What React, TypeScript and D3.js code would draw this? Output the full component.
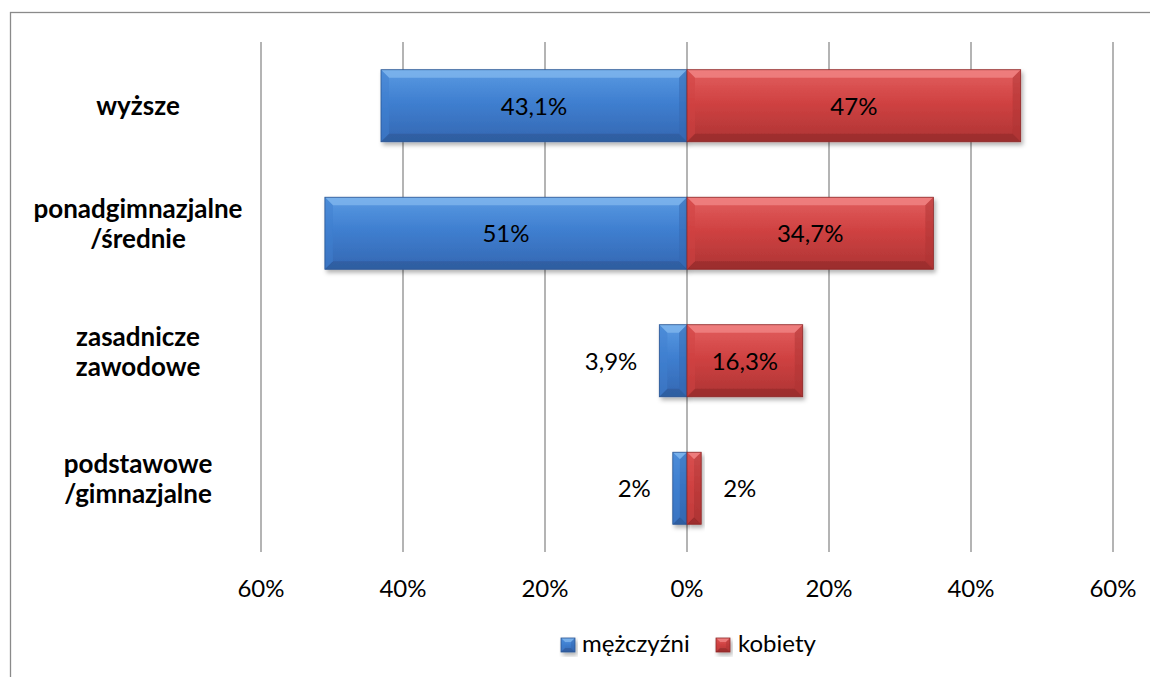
import React from 'react';
import * as d3 from 'd3';

const categories = ['wyższe', 'ponadgimnazjalne\n/średnie', 'zasadnicze\nzawodowe', 'podstawowe\n/gimnazjalne'];
const menValues = [43.1, 51, 3.9, 2];
const womenValues = [47, 34.7, 16.3, 2];
const tickValues = [-60, -40, -20, 0, 20, 40, 60];
const seriesNames = ['mężczyźni', 'kobiety'];

const W = 1150;
const H = 677;
const FONT = 'Lato, Carlito, Calibri, sans-serif';
const FS = 24;

const x = d3.scaleLinear().domain([-60, 60]).range([261, 1113]);
const y = d3.scaleBand<string>().domain(categories).range([42, 552]).paddingInner(0.435).paddingOuter(0.2175);

const pct = (v: number) => String(Math.abs(v)).replace('.', ',') + '%';

const palettes = {
  blue: { top: '#5a9ae2', mid: '#3f7fd0', bot: '#3467b2', light: '#86baf0', dark: '#2a548f', edge: '#2b5592' },
  red: { top: '#e25f5f', mid: '#d04242', bot: '#ae3434', light: '#f48a8a', dark: '#8a2626', edge: '#8e2a2a' },
};

function BevelBar({ x0, x1, y0, y1, pal, id, bevel = 8 }: { x0: number; x1: number; y0: number; y1: number; pal: any; id: string; bevel?: number }) {
  const b = Math.min(bevel, (x1 - x0) / 2, (y1 - y0) / 2);
  const pts = (p: number[][]) => p.map(q => q.join(',')).join(' ');
  return (
    <g filter="url(#shadow)">
      <rect x={x0} y={y0} width={x1 - x0} height={y1 - y0} fill={`url(#grad-${id})`} />
      <polygon points={pts([[x0, y0], [x1, y0], [x1 - b, y0 + b], [x0 + b, y0 + b]])} fill={pal.light} opacity={0.7} />
      <polygon points={pts([[x0, y1], [x1, y1], [x1 - b, y1 - b], [x0 + b, y1 - b]])} fill={pal.dark} opacity={0.5} />
      <polygon points={pts([[x0, y0], [x0 + b, y0 + b], [x0 + b, y1 - b], [x0, y1]])} fill={pal.mid} opacity={0.5} />
      <polygon points={pts([[x1, y0], [x1 - b, y0 + b], [x1 - b, y1 - b], [x1, y1]])} fill={pal.bot} opacity={0.5} />
      <rect x={x0} y={y0} width={x1 - x0} height={y1 - y0} fill="none" stroke={pal.edge} strokeWidth={0.8} />
    </g>
  );
}

function CatLabel({ text, cy }: { text: string; cy: number }) {
  const lines = text.split('\n');
  const offs = lines.length === 1 ? [9] : [-15, 15];
  return (
    <text x={138} textAnchor="middle" fontFamily={FONT} fontWeight="bold" fontSize={26} fill="#000">
      {lines.map((l, i) => (
        <tspan key={i} x={138} y={cy + offs[i]}>{l}</tspan>
      ))}
    </text>
  );
}

export default function App() {
  const bw = y.bandwidth();
  const x0 = x(0);
  return (
    <div style={{ position: 'fixed', left: 0, top: 0 }}>
      <svg width={W} height={H} style={{ display: 'block', background: '#fff' }}>
        <defs>
          {Object.entries(palettes).map(([k, p]) => (
            <linearGradient key={k} id={`grad-${k}`} x1="0" y1="0" x2="0" y2="1">
              <stop offset="0" stopColor={p.top} />
              <stop offset="0.45" stopColor={p.mid} />
              <stop offset="1" stopColor={p.bot} />
            </linearGradient>
          ))}
          <filter id="shadow" x="-10%" y="-20%" width="130%" height="150%">
            <feDropShadow dx="2" dy="3" stdDeviation="2" floodColor="#000" floodOpacity="0.3" />
          </filter>
        </defs>
        <rect x={10.5} y={12.5} width={1200} height={700} fill="#fff" stroke="#8a8a8a" strokeWidth={1.3} />
        {tickValues.map(t => (
          <line key={t} x1={x(t)} x2={x(t)} y1={42} y2={552} stroke="#8c8c8c" strokeWidth={1.3} />
        ))}
        {categories.map((c, i) => {
          const yt = y(c) as number;
          const m = menValues[i];
          const w = womenValues[i];
          const mx = x(-m);
          const wx = x(w);
          const cy = yt + bw / 2;
          const mInside = x0 - mx > 60;
          const wInside = wx - x0 > 60;
          return (
            <g key={c}>
              <BevelBar x0={mx} x1={x0} y0={yt} y1={yt + bw} pal={palettes.blue} id="blue" />
              <BevelBar x0={x0} x1={wx} y0={yt} y1={yt + bw} pal={palettes.red} id="red" />
              <text
                x={mInside ? (mx + x0) / 2 : mx - 22}
                y={cy + 9}
                textAnchor={mInside ? 'middle' : 'end'}
                fontFamily={FONT}
                fontSize={FS}
                fill="#000"
              >{pct(m)}</text>
              <text
                x={wInside ? (wx + x0) / 2 : wx + 22}
                y={cy + 9}
                textAnchor={wInside ? 'middle' : 'start'}
                fontFamily={FONT}
                fontSize={FS}
                fill="#000"
              >{pct(w)}</text>
              <CatLabel text={c} cy={cy} />
            </g>
          );
        })}
        {tickValues.map(t => (
          <text key={'l' + t} x={x(t)} y={597} textAnchor="middle" fontFamily={FONT} fontSize={FS} fill="#000">
            {pct(t)}
          </text>
        ))}
        <g>
          <BevelBar x0={561} x1={575} y0={638} y1={652} pal={palettes.blue} id="blue" bevel={4} />
          <text x={582} y={652} fontFamily={FONT} fontSize={FS} fill="#000">{seriesNames[0]}</text>
          <BevelBar x0={716} x1={730} y0={638} y1={652} pal={palettes.red} id="red" bevel={4} />
          <text x={738} y={652} fontFamily={FONT} fontSize={FS} fill="#000">{seriesNames[1]}</text>
        </g>
      </svg>
    </div>
  );
}
